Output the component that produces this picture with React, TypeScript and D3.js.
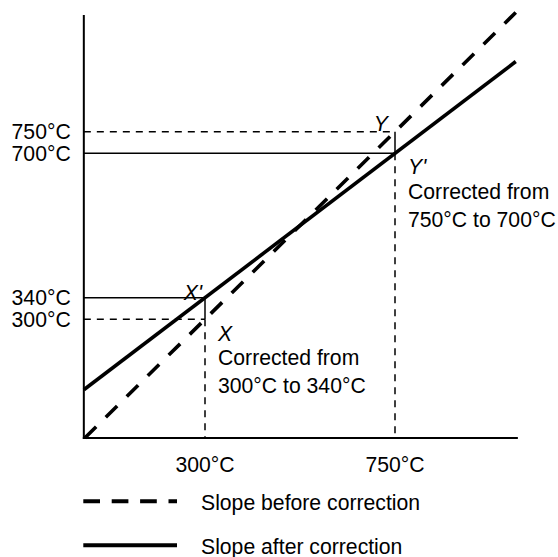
import React from "react";
import * as d3 from "d3";

// ---- data ----
const yTickValues = [300, 340, 700, 750];
const yTickLabels = ["300°C", "340°C", "700°C", "750°C"];
const xTickValues = [300, 750];
const xTickLabels = ["300°C", "750°C"];

// Points: before correction (dashed) and after correction (solid)
const beforePoints: [number, number][] = [[300, 300], [750, 750]];
const afterPoints: [number, number][] = [[300, 340], [750, 700]];

const pointLabels = [
  { name: "X'", x: 300, y: 340 },
  { name: "X", x: 300, y: 300 },
  { name: "Y", x: 750, y: 750 },
  { name: "Y'", x: 750, y: 700 },
];

const notes = [
  { x: 300, y: 300, lines: ["Corrected from", "300°C to 340°C"] },
  { x: 750, y: 700, lines: ["Corrected from", "750°C to 700°C"] },
];

const legendItems = [
  { label: "Slope before correction", dashed: true },
  { label: "Slope after correction", dashed: false },
];

const xAxisMin = 13;
const xAxisMax = 1041;
const lineEndX = 1036;

const W = 558;
const H = 557;
const FONT = "'Liberation Sans', Arial, Helvetica, sans-serif";
const FS = 21.2;

export default function App() {
  const x = d3.scaleLinear().domain([300, 750]).range([205, 395]);
  // schematic (non-uniform) temperature axis
  const y = d3.scaleLinear().domain(yTickValues).range([319.3, 297.7, 153.3, 131.7]);

  const x0 = x(xAxisMin);
  const x1 = x(xAxisMax);
  const yBottom = 438;
  const yTop = 15;

  // extend a line through two data points across [xAxisMin, lineEndX] in pixel space
  const extend = (pts: [number, number][]) => {
    const [a, b] = pts.map(([px, py]) => [x(px), y(py)]);
    const slope = (b[1] - a[1]) / (b[0] - a[0]);
    const xa = x0;
    const xb = x(lineEndX);
    let ya = a[1] + (xa - a[0]) * slope;
    let startX = xa;
    if (ya > yBottom) {
      startX = a[0] + (yBottom - a[1]) / slope;
      ya = yBottom;
    }
    const yb = a[1] + (xb - a[0]) * slope;
    return d3.line()([[startX, ya], [xb, yb]]) as string;
  };

  const thin = 1.5;
  const thinDash = "7,6";
  const thick = 3.6;
  const thickDash = "16,13.5";

  const gx300 = x(beforePoints[0][0]);
  const gx750 = x(beforePoints[1][0]);

  return (
    <svg
      width={W}
      height={H}
      style={{ position: "absolute", left: 0, top: 0, background: "#fff" }}
      fontFamily={FONT}
      fontSize={FS}
    >
      <rect width={W} height={H} fill="#fff" />
      {/* guide lines for X */}
      <line x1={x0} x2={gx300} y1={y(afterPoints[0][1])} y2={y(afterPoints[0][1])} stroke="#000" strokeWidth={thin} />
      <line x1={x0} x2={gx300} y1={y(beforePoints[0][1])} y2={y(beforePoints[0][1])} stroke="#000" strokeWidth={thin} strokeDasharray={thinDash} />
      <line x1={gx300} x2={gx300} y1={y(afterPoints[0][1])} y2={y(beforePoints[0][1])} stroke="#000" strokeWidth={thin} />
      <line x1={gx300} x2={gx300} y1={y(beforePoints[0][1])} y2={yBottom} stroke="#000" strokeWidth={thin} strokeDasharray={thinDash} />
      {/* guide lines for Y */}
      <line x1={x0} x2={gx750} y1={y(afterPoints[1][1])} y2={y(afterPoints[1][1])} stroke="#000" strokeWidth={thin} />
      <line x1={x0} x2={gx750} y1={y(beforePoints[1][1])} y2={y(beforePoints[1][1])} stroke="#000" strokeWidth={thin} strokeDasharray={thinDash} />
      <line x1={gx750} x2={gx750} y1={y(beforePoints[1][1])} y2={y(afterPoints[1][1])} stroke="#000" strokeWidth={thin} />
      <line x1={gx750} x2={gx750} y1={y(afterPoints[1][1])} y2={yBottom} stroke="#000" strokeWidth={thin} strokeDasharray={thinDash} />

      {/* slopes */}
      <path d={extend(beforePoints)} stroke="#000" strokeWidth={thick} strokeDasharray={thickDash} fill="none" />
      <path d={extend(afterPoints)} stroke="#000" strokeWidth={thick} fill="none" />

      {/* axes */}
      <line x1={x0} x2={x0} y1={yTop} y2={yBottom + 1} stroke="#000" strokeWidth={2} />
      <line x1={x0 - 1} x2={x1} y1={yBottom} y2={yBottom} stroke="#000" strokeWidth={2} />

      {/* y tick labels */}
      {yTickValues.map((v, i) => (
        <text key={"yt" + i} x={70.7} y={y(v) + 7.6} textAnchor="end" fill="#000">
          {yTickLabels[i]}
        </text>
      ))}
      {/* x tick labels */}
      {xTickValues.map((v, i) => (
        <text key={"xt" + i} x={x(v)} y={471.7} textAnchor="middle" fill="#000">
          {xTickLabels[i]}
        </text>
      ))}

      {/* point labels */}
      {pointLabels.map((p) => {
        const px = x(p.x);
        const py = y(p.y);
        let tx = px, ty = py, anchor = "start";
        if (p.name === "X'") { tx = px - 3; ty = py + 2.3; anchor = "end"; }
        if (p.name === "X") { tx = px + 13; ty = py + 21.4; }
        if (p.name === "Y") { tx = px - 7; ty = py - 1; anchor = "end"; }
        if (p.name === "Y'") { tx = px + 13; ty = py + 20.7; }
        return (
          <text key={p.name} x={tx} y={ty} textAnchor={anchor} fontStyle="italic" fill="#000">
            {p.name}
          </text>
        );
      })}

      {/* notes */}
      {notes.map((n, i) => (
        <g key={"n" + i}>
          {n.lines.map((l, j) => (
            <text key={j} x={x(n.x) + 13} y={y(n.y) + 45.7 + j * 28} fill="#000">
              {l}
            </text>
          ))}
        </g>
      ))}

      {/* legend */}
      {legendItems.map((it, i) => {
        const ly = 501.3 + i * 44;
        return (
          <g key={"lg" + i}>
            <line x1={83.3} x2={177} y1={ly} y2={ly} stroke="#000" strokeWidth={4} strokeDasharray={it.dashed ? "16.7,11.7" : undefined} />
            <text x={201} y={ly + 8.5} fill="#000">{it.label}</text>
          </g>
        );
      })}
    </svg>
  );
}
